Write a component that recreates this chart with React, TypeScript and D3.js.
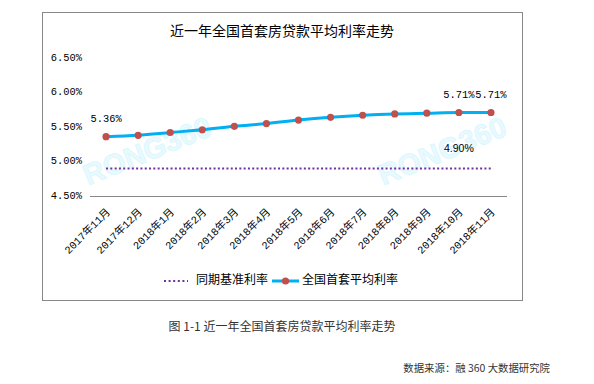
import React from "react";
import * as d3 from "d3";

const categories = [
  "2017年11月", "2017年12月", "2018年1月", "2018年2月", "2018年3月", "2018年4月",
  "2018年5月", "2018年6月", "2018年7月", "2018年8月", "2018年9月", "2018年10月", "2018年11月",
];
const avgRate = [5.36, 5.38, 5.42, 5.46, 5.51, 5.55, 5.6, 5.64, 5.67, 5.69, 5.7, 5.71, 5.71];
const baseRate = [4.9, 4.9, 4.9, 4.9, 4.9, 4.9, 4.9, 4.9, 4.9, 4.9, 4.9, 4.9, 4.9];
const yTicks = [4.5, 5.0, 5.5, 6.0, 6.5];
const avgLabels = [0, 11, 12];
const baseLabels = [11];
const seriesNames = ["同期基准利率", "全国首套平均利率"];
const title = "近一年全国首套房贷款平均利率走势";
const caption = "图 1-1  近一年全国首套房贷款平均利率走势";
const source = "数据来源：融 360 大数据研究院";

const W = 594;
const H = 384;
const BLUE = "#00B0F0";
const RED = "#C0504D";
const PURPLE = "#7030A0";
const MONO = "'Liberation Mono', 'DejaVu Sans Mono', 'Noto Sans CJK SC', monospace";
const CJK = "'Noto Sans CJK SC', 'Noto Sans', sans-serif";

export default function App() {
  const x = d3.scaleBand<string>().domain(categories).range([90, 507]);
  const y = d3.scaleLinear().domain([4.5, 6.5]).range([196, 58]);
  const cx = (c: string) => (x(c) ?? 0) + x.bandwidth() / 2;

  const line = d3
    .line<number>()
    .x((_, i) => cx(categories[i]))
    .y((d) => y(d))
    .curve(d3.curveMonotoneX);

  const fmt = (v: number) => v.toFixed(2) + "%";

  return (
    <svg
      width={W}
      height={H}
      style={{ position: "absolute", left: 0, top: 0, background: "#fff" }}
    >
      <rect x={0} y={0} width={W} height={H} fill="#fff" />
      {/* chart frame */}
      <rect x={42.5} y={12.5} width={480} height={288} fill="#fff" stroke="#888" strokeWidth={1} />

      {/* watermarks */}
      {[
        [148, 153],
        [443, 153],
      ].map(([wx, wy], i) => (
        <text
          key={i}
          transform={`translate(${wx},${wy}) rotate(-22)`}
          textAnchor="middle"
          dominantBaseline="middle"
          fontFamily="'Liberation Sans', Arial, sans-serif"
          fontWeight="bold"
          fontSize={29}
          fill="#e9faff"
          stroke="#d9f6fe"
          strokeWidth={0.8}
        >
          RONG360
        </text>
      ))}

      {/* title */}
      <text x={282} y={32} textAnchor="middle" dominantBaseline="middle" fontFamily={CJK} fontSize={14} fill="#000">
        {title}
      </text>

      {/* y tick labels */}
      {yTicks.map((t) => (
        <text
          key={t}
          x={82}
          y={y(t)}
          textAnchor="end"
          dominantBaseline="middle"
          fontFamily={MONO}
          fontSize={10.4}
          fill="#000"
        >
          {fmt(t)}
        </text>
      ))}

      {/* x axis line */}
      <line x1={90} x2={507} y1={196.5} y2={196.5} stroke="#888" strokeWidth={1} />

      {/* x labels */}
      {categories.map((c) => (
        <text
          key={c}
          transform={`translate(${cx(c) + 2},210) rotate(-45)`}
          textAnchor="end"
          dy="0.35em"
          fontFamily={MONO}
          fontSize={10.6}
          fill="#000"
        >
          {c}
        </text>
      ))}

      {/* base rate dotted line */}
      <path
        d={line(baseRate) ?? ""}
        fill="none"
        stroke={PURPLE}
        strokeWidth={2}
        strokeDasharray="2,2.3"
      />

      {/* avg rate line */}
      <path d={line(avgRate) ?? ""} fill="none" stroke={BLUE} strokeWidth={3} />
      {avgRate.map((v, i) => (
        <circle key={i} cx={cx(categories[i])} cy={y(v)} r={3.6} fill={RED} />
      ))}

      {/* data labels */}
      {avgLabels.map((i) => (
        <text
          key={"a" + i}
          x={cx(categories[i])}
          y={y(avgRate[i]) - 17}
          textAnchor="middle"
          dominantBaseline="middle"
          fontFamily={MONO}
          fontSize={10.4}
          fill="#000"
        >
          {fmt(avgRate[i])}
        </text>
      ))}
      {baseLabels.map((i) => (
        <text
          key={"b" + i}
          x={cx(categories[i])}
          y={y(baseRate[i]) - 19}
          textAnchor="middle"
          dominantBaseline="middle"
          fontFamily="'Liberation Sans', Arial, sans-serif"
          fontSize={10.5}
          fill="#000"
        >
          {fmt(baseRate[i])}
        </text>
      ))}

      {/* legend */}
      <line x1={164} x2={188} y1={281} y2={281} stroke={PURPLE} strokeWidth={2} strokeDasharray="2,2.6" />
      <text x={196} y={281} dominantBaseline="middle" fontFamily={CJK} fontSize={12} fill="#000">
        {seriesNames[0]}
      </text>
      <line x1={272} x2={299} y1={281} y2={281} stroke={BLUE} strokeWidth={3} />
      <circle cx={285.5} cy={281} r={3.6} fill={RED} />
      <text x={302} y={281} dominantBaseline="middle" fontFamily={CJK} fontSize={12} fill="#000">
        {seriesNames[1]}
      </text>

      {/* caption */}
      <text x={282} y={328} textAnchor="middle" dominantBaseline="middle" fontFamily={CJK} fontSize={12} fill="#333">
        {caption}
      </text>
      <text x={550} y={369} textAnchor="end" dominantBaseline="middle" fontFamily={CJK} fontSize={10.4} fill="#333">
        {source}
      </text>
    </svg>
  );
}
